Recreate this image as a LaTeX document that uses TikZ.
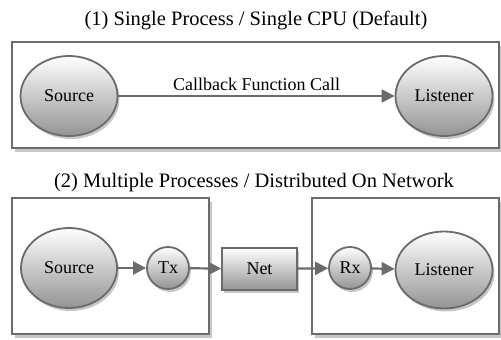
\documentclass[tikz,border=0pt]{standalone}
\usepackage{fontspec}
\setmainfont{Liberation Serif}
\usetikzlibrary{arrows.meta,shapes.geometric,shadows}
\definecolor{edgegray}{gray}{0.42}
\begin{document}
\begin{tikzpicture}[x=1pt,y=-1pt,
	font=\fontsize{18}{21}\selectfont,
	caption/.style={font=\fontsize{20.5}{24}\selectfont},
	frame/.style={draw=edgegray, line width=2pt, fill=white, inner sep=0pt,
		drop shadow={shadow xshift=3pt, shadow yshift=-4pt, fill=black!22, opacity=1}},
	blob/.style={ellipse, draw=edgegray, line width=1.8pt, inner sep=0pt,
		top color=white, bottom color=black!42,
		drop shadow={shadow xshift=2pt, shadow yshift=-3pt, fill=black!22, opacity=1}},
	port/.style={blob, circle, minimum size=42pt},
	netbox/.style={blob, rectangle, minimum width=75pt, minimum height=42pt},
	flow/.style={-{Triangle[length=13pt,width=13pt]}, draw=edgegray, line width=2.2pt}]
	\useasboundingbox (0,0) rectangle (501,340);
	% (1) one process
	\node[caption] (title1) at (256,20) {(1) Single Process / Single CPU (Default)};
	\node[frame, minimum width=487pt, minimum height=106pt] (box1) at (255.5,95) {};
	\node[blob, minimum width=97pt, minimum height=80pt] (src1) at (69,96) {Source};
	\node[blob, minimum width=97pt, minimum height=80pt] (lst1) at (444,96) {Listener};
	\draw[flow] (src1) -- node[above=1pt, black] {Callback Function Call} (lst1);
	% (2) two processes over the network
	\node[caption] (title2) at (254,183) {(2) Multiple Processes / Distributed On Network};
	\node[frame, minimum width=197pt, minimum height=136pt] (box2a) at (110.5,266) {};
	\node[frame, minimum width=187pt, minimum height=136pt] (box2b) at (405.5,266) {};
	\node[blob, minimum width=96pt, minimum height=80pt] (src2) at (69,268) {Source};
	\node[port] (tx) at (168,268) {Tx};
	\node[netbox] (net) at (259.5,269) {Net};
	\node[port] (rx) at (350,268) {Rx};
	\node[blob, minimum width=97pt, minimum height=77pt] (lst2) at (444,270) {Listener};
	\draw[flow] (src2) -- (tx);
	\draw[flow] (tx) -- (net);
	\draw[flow] (net) -- (rx);
	\draw[flow] (rx) -- (lst2);
\end{tikzpicture}
\end{document}
